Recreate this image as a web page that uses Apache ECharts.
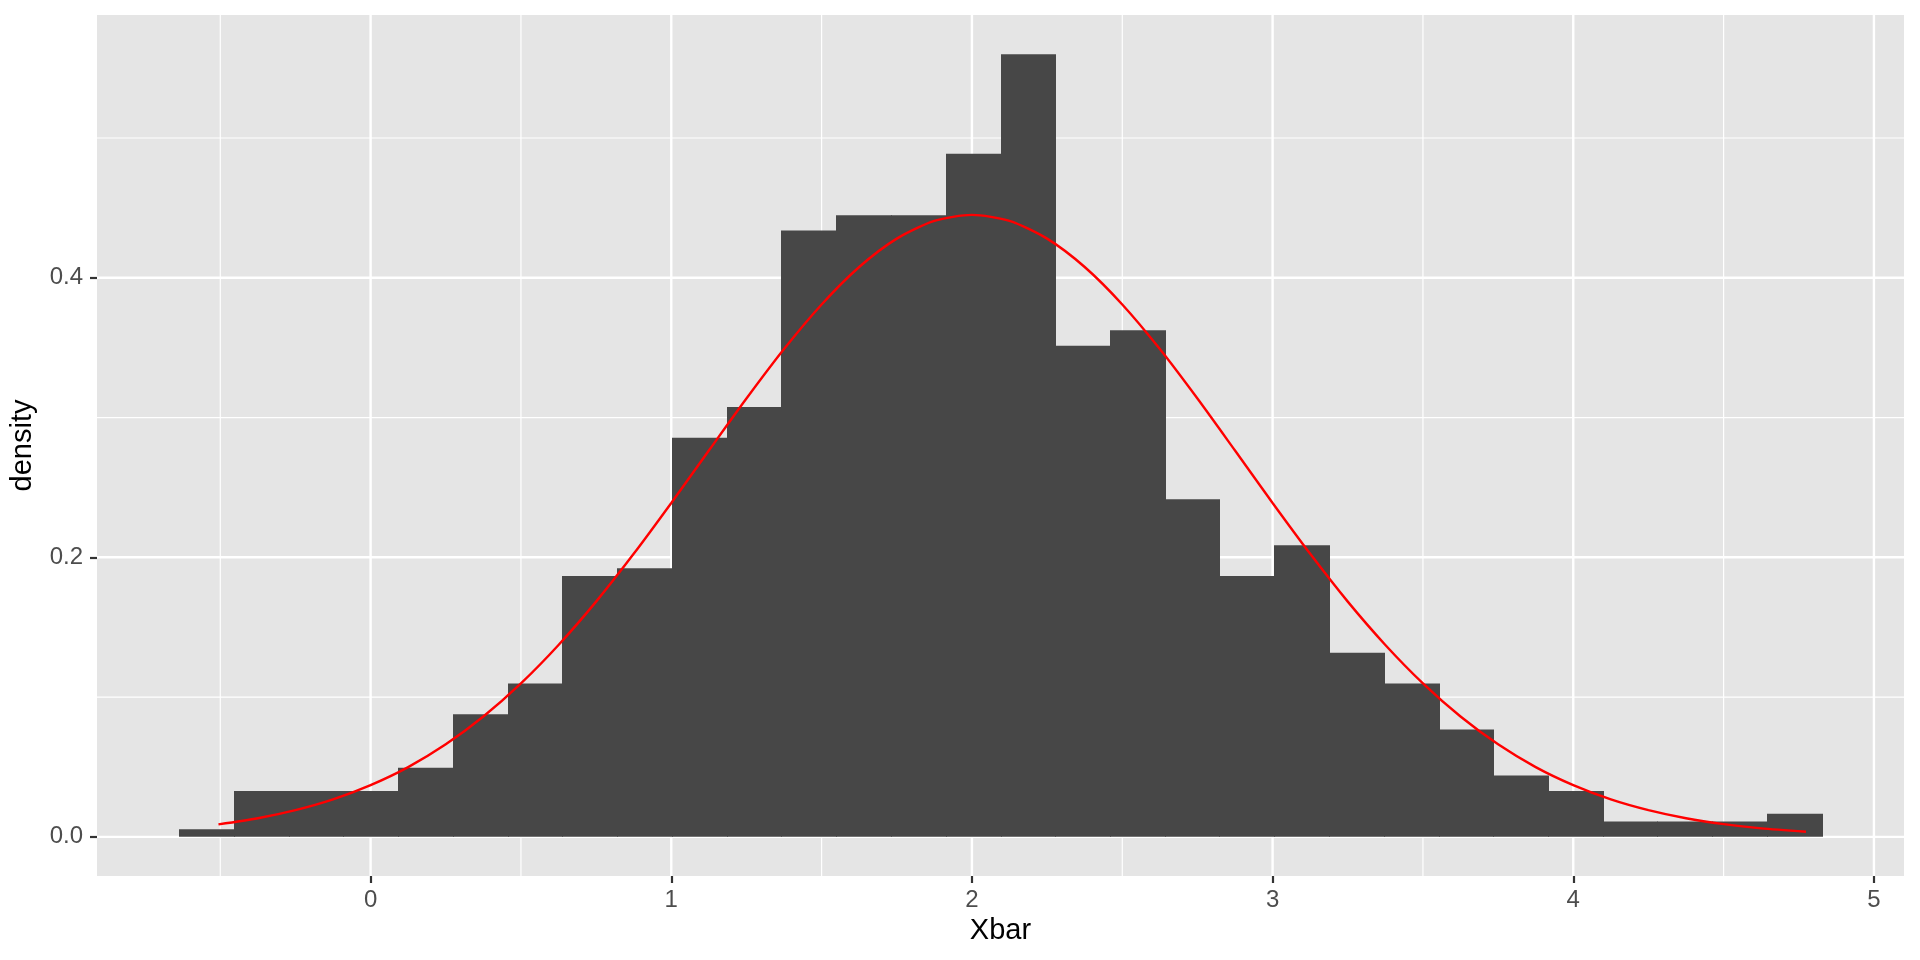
<!DOCTYPE html>
<html>
<head>
<meta charset="utf-8">
<script src="https://cdn.jsdelivr.net/npm/echarts@6/dist/echarts.min.js"></script>
<style>
html,body{margin:0;padding:0;background:#fff;}
#chart{width:1920px;height:960px;}
</style>
</head>
<body>
<div id="chart"></div>
<script>
// Histogram bin edges (31 edges -> 30 bins)
var binEdges = [-0.637,-0.455,-0.273,-0.091,0.092,0.274,0.456,0.638,0.820,1.002,
  1.184,1.366,1.549,1.731,1.913,2.095,2.277,2.459,2.641,2.823,
  3.006,3.188,3.370,3.552,3.734,3.916,4.098,4.280,4.463,4.645,4.827];
// Density of each bin
var densities = [0.0055,0.0329,0.0329,0.0329,0.0494,0.0878,0.1098,0.1867,0.1922,0.2855,
  0.3075,0.4338,0.4447,0.4447,0.4887,0.5600,0.3514,0.3624,0.2416,0.1867,
  0.2086,0.1318,0.1098,0.0769,0.0439,0.0329,0.0110,0.0110,0.0110,0.0165];
// Red curve points
var curveX = [-0.506,-0.375,-0.25,-0.125,0,0.125,0.25,0.375,0.5,0.625,0.75,0.875,1,1.125,1.25,1.375,1.5,1.625,1.75,1.875,
  2,2.125,2.25,2.375,2.5,2.625,2.75,2.875,3,3.125,3.25,3.375,3.5,3.625,3.75,3.875,4,4.125,4.25,4.375,4.5,4.625,4.774];
var curveY = [0.0089,0.0133,0.0191,0.0268,0.0370,0.0499,0.0662,0.0861,0.1098,0.1373,0.1683,0.2025,0.2389,0.2764,0.3136,0.3490,0.3809,0.4077,0.4280,0.4407,
  0.4450,0.4407,0.4280,0.4077,0.3809,0.3490,0.3136,0.2764,0.2389,0.2025,0.1683,0.1373,0.1098,0.0861,0.0662,0.0499,0.0370,0.0268,0.0191,0.0133,0.0091,0.0061,0.0037];
// Axis ticks and grid lines
var xTicks = [0,1,2,3,4,5];
var xMinor = [-0.5,0.5,1.5,2.5,3.5,4.5];
var yTicks = [0,0.2,0.4];
var yMinor = [0.1,0.3,0.5];
var xRange = [-0.910, 5.100];
var yRange = [-0.028, 0.588];

var histData = densities.map(function(d, i){ return [binEdges[i], binEdges[i+1], d]; });
var curveData = curveX.map(function(x, i){ return [x, curveY[i]]; });

// grid line items: [value, orientation (0 = vertical/x, 1 = horizontal/y), major flag]
var gridData = [];
xTicks.forEach(function(v){ gridData.push([v, 0, 1]); });
xMinor.forEach(function(v){ gridData.push([v, 0, 0]); });
yTicks.forEach(function(v){ gridData.push([v, 1, 1]); });
yMinor.forEach(function(v){ gridData.push([v, 1, 0]); });

var font = '"Liberation Sans", Arial, Helvetica, sans-serif';
var chart = echarts.init(document.getElementById('chart'), null, {renderer:'canvas'});
chart.setOption({
  animation: false,
  backgroundColor: '#ffffff',
  grid: {left: 95, top: 15, width: 1809, height: 861, show: true, backgroundColor: '#E5E5E5', borderWidth: 0},
  xAxis: {
    type: 'value', min: xRange[0], max: xRange[1],
    name: 'Xbar', nameLocation: 'middle', nameGap: 40,
    nameTextStyle: {fontFamily: font, fontSize: 29, color: '#000'},
    axisLine: {show: false, onZero: false},
    axisTick: {show: true, length: 7, customValues: xTicks, lineStyle: {color: '#333333', width: 2.2}},
    axisLabel: {customValues: xTicks, margin: 12, fontFamily: font, fontSize: 24, color: '#4D4D4D'},
    splitLine: {show: false}
  },
  yAxis: {
    type: 'value', min: yRange[0], max: yRange[1],
    name: 'density', nameLocation: 'middle', nameGap: 60, nameRotate: 90,
    nameTextStyle: {fontFamily: font, fontSize: 29, color: '#000'},
    axisLine: {show: false, onZero: false},
    axisTick: {show: true, length: 7, customValues: yTicks, lineStyle: {color: '#333333', width: 2.2}},
    axisLabel: {customValues: yTicks, margin: 14, fontFamily: font, fontSize: 24, color: '#4D4D4D',
      formatter: function(v){ return v.toFixed(1); }},
    splitLine: {show: false}
  },
  series: [
    {
      type: 'custom', z: 1, silent: true, clip: true,
      data: gridData,
      encode: {x: -1, y: -1},
      renderItem: function(params, api){
        var cs = params.coordSys;
        var v = api.value(0), horiz = api.value(1) === 1, major = api.value(2) === 1;
        var shape;
        if (horiz) {
          var py = api.coord([xRange[0], v])[1];
          shape = {x1: cs.x, y1: py, x2: cs.x + cs.width, y2: py};
        } else {
          var px = api.coord([v, yRange[0]])[0];
          shape = {x1: px, y1: cs.y, x2: px, y2: cs.y + cs.height};
        }
        return {type: 'line', shape: shape, style: {stroke: '#FFFFFF', lineWidth: major ? 2.4 : 1.2}};
      }
    },
    {
      type: 'custom', z: 2, silent: true,
      data: histData,
      encode: {x: [0,1], y: 2},
      renderItem: function(params, api){
        var p0 = api.coord([api.value(0), api.value(2)]);
        var p1 = api.coord([api.value(1), 0]);
        var x0 = Math.round(p0[0]), x1 = Math.round(p1[0]);
        return {type: 'rect', shape: {x: x0, y: p0[1], width: x1 - x0 + 1, height: p1[1]-p0[1]},
          style: {fill: '#474747', stroke: null}};
      }
    },
    {
      type: 'line', z: 3, data: curveData, smooth: 0.25, showSymbol: false, silent: true,
      lineStyle: {color: '#FF0000', width: 2.4}
    }
  ]
});
</script>
</body>
</html>
